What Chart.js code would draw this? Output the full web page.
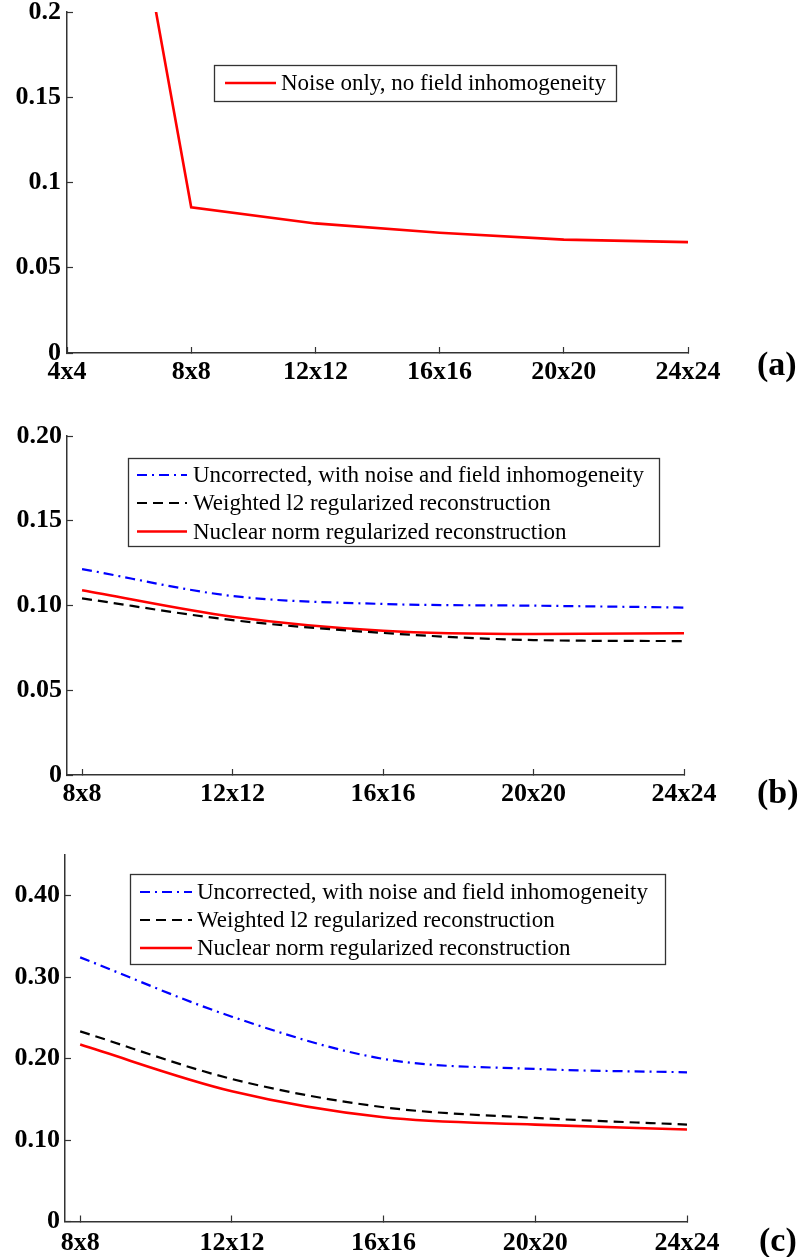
<!DOCTYPE html>
<html>
<head>
<meta charset="utf-8">
<script src="https://cdn.jsdelivr.net/npm/chart.js@4.4.1/dist/chart.umd.min.js"></script>
<style>
html,body{margin:0;padding:0;background:#fff;width:803px;height:1257px;overflow:hidden;}
.panel{position:absolute;left:0;width:803px;}
canvas{display:block;}
</style>
</head>
<body>
<div class="panel" style="top:0;height:400px"><canvas id="ca" width="803" height="400"></canvas></div>
<div class="panel" style="top:420px;height:400px"><canvas id="cb" width="803" height="400"></canvas></div>
<div class="panel" style="top:840px;height:417px"><canvas id="cc" width="803" height="417"></canvas></div>
<script>
// ---------------- DATA ----------------
const sizesA = [4, 8, 12, 16, 20, 24];
const noiseOnlyA = [0.49, 0.0855, 0.076, 0.0705, 0.0665, 0.065];

const sizesBC = [8, 12, 16, 20, 24];
const uncorrectedB = [0.1215, 0.1056, 0.1009, 0.0999, 0.0988];
const weightedL2B  = [0.1042, 0.0914, 0.0838, 0.0796, 0.0790];
const nuclearB     = [0.1090, 0.0934, 0.0851, 0.0832, 0.0836];

const uncorrectedC = [0.3243, 0.2515, 0.1996, 0.1873, 0.1832];
const weightedL2C  = [0.2335, 0.1750, 0.1403, 0.1272, 0.1190];
const nuclearC     = [0.2172, 0.1600, 0.1280, 0.1190, 0.1129];

const xTicksA = [4, 8, 12, 16, 20, 24];
const xTickLabelsA = ['4x4', '8x8', '12x12', '16x16', '20x20', '24x24'];
const xTicksBC = [8, 12, 16, 20, 24];
const xTickLabelsBC = ['8x8', '12x12', '16x16', '20x20', '24x24'];

const yTicksA = [0, 0.05, 0.1, 0.15, 0.2];
const yTickLabelsA = ['0', '0.05', '0.1', '0.15', '0.2'];
const yTicksB = [0, 0.05, 0.1, 0.15, 0.2];
const yTickLabelsB = ['0', '0.05', '0.10', '0.15', '0.20'];
const yTicksC = [0, 0.1, 0.2, 0.3, 0.4];
const yTickLabelsC = ['0', '0.10', '0.20', '0.30', '0.40'];

const labelNoiseOnly = 'Noise only, no field inhomogeneity';
const labelUncorrected = 'Uncorrected, with noise and field inhomogeneity';
const labelWeighted = 'Weighted l2 regularized reconstruction';
const labelNuclear = 'Nuclear norm regularized reconstruction';
const panelTags = ['(a)', '(b)', '(c)'];

// ---------------- HELPERS ----------------
const pts = (xs, ys) => xs.map((x, i) => ({x: x, y: ys[i]}));
const TICK_FONT = {family: '"Liberation Serif", "Times New Roman", serif', weight: 'bold', size: 26};
const AXIS_COL = '#333';

const boxLegend = {
  id: 'boxLegend',
  afterDraw(chart, args, o) {
    const ctx = chart.ctx;
    ctx.save();
    const b = o.box;
    ctx.fillStyle = '#fff';
    ctx.fillRect(b[0], b[1], b[2] - b[0], b[3] - b[1]);
    ctx.strokeStyle = '#333';
    ctx.lineWidth = 1.3;
    ctx.strokeRect(b[0] + 0.5, b[1] + 0.5, b[2] - b[0], b[3] - b[1]);
    ctx.font = o.font;
    ctx.textBaseline = 'middle';
    ctx.textAlign = 'left';
    chart.data.datasets.forEach((ds, i) => {
      const y = o.rows[i];
      ctx.beginPath();
      ctx.setLineDash(ds.borderDash || []);
      ctx.strokeStyle = ds.borderColor;
      ctx.lineWidth = ds.borderWidth;
      ctx.moveTo(o.sample[0], y);
      ctx.lineTo(o.sample[1], y);
      ctx.stroke();
      ctx.setLineDash([]);
      ctx.fillStyle = '#000';
      ctx.fillText(ds.label, o.textX, y + 1);
    });
    if (o.tag) {
      ctx.font = o.tag.font;
      ctx.fillStyle = '#000';
      ctx.textBaseline = 'middle';
      ctx.fillText(o.tag.text, o.tag.x, o.tag.y);
    }
    ctx.restore();
  }
};

function makeChart(id, cfg) {
  const ctx = document.getElementById(id);
  return new Chart(ctx, {
    type: 'line',
    data: {datasets: cfg.datasets},
    options: {
      responsive: false,
      animation: false,
      events: [],
      layout: {padding: {left: 0, top: cfg.padTop, right: cfg.padRight, bottom: 0}},
      plugins: {
        legend: {display: false},
        tooltip: {enabled: false},
        boxLegend: cfg.legend
      },
      scales: {
        x: {
          type: 'linear',
          position: 'bottom',
          min: cfg.xMin, max: cfg.xMax,
          afterBuildTicks: s => { s.ticks = cfg.xTicks.map(v => ({value: v})); },
          afterFit: s => { s.height = cfg.xHeight; s.paddingLeft = 0; s.paddingRight = 0; },
          ticks: {
            autoSkip: false, maxRotation: 0, minRotation: 0,
            padding: cfg.xPad,
            color: '#000',
            font: TICK_FONT,
            callback: (v, i) => cfg.xLabels[i]
          },
          grid: {drawOnChartArea: false, drawTicks: true, tickLength: -6, color: AXIS_COL, tickWidth: 1.2},
          border: {display: true, color: AXIS_COL, width: 1.5}
        },
        y: {
          type: 'linear',
          position: 'left',
          min: cfg.yMin, max: cfg.yMax,
          afterBuildTicks: s => { s.ticks = cfg.yTicks.map(v => ({value: v})); },
          afterFit: s => { s.width = cfg.yWidth; s.paddingTop = 0; s.paddingBottom = 0; },
          ticks: {
            padding: cfg.yPad,
            color: '#000',
            font: TICK_FONT,
            callback: (v, i) => cfg.yLabels[i]
          },
          grid: {drawOnChartArea: false, drawTicks: true, tickLength: -6, color: AXIS_COL, tickWidth: 1.2},
          border: {display: true, color: AXIS_COL, width: 1.5}
        }
      }
    },
    plugins: [boxLegend]
  });
}

const LEG_FONT = '23px "Liberation Serif", "Times New Roman", serif';
const TAG_FONT = 'bold 34px "Liberation Serif", "Times New Roman", serif';
const dsStyle = {
  blue:  {borderColor: '#0000ff', borderWidth: 2.2, borderDash: [10, 5, 2, 5]},
  black: {borderColor: '#000000', borderWidth: 2.2, borderDash: [10, 6]},
  red:   {borderColor: '#ff0000', borderWidth: 2.6, borderDash: []}
};
const common = {fill: false, pointRadius: 0, cubicInterpolationMode: 'monotone'};

// ---------------- PANEL (a) ----------------
makeChart('ca', {
  datasets: [Object.assign({label: labelNoiseOnly, data: pts(sizesA, noiseOnlyA), fill: false, pointRadius: 0, tension: 0}, dsStyle.red)],
  padTop: 12, padRight: 115, xHeight: 47, yWidth: 67,
  xMin: 4, xMax: 24, yMin: 0, yMax: 0.2,
  xTicks: xTicksA, xLabels: xTickLabelsA, yTicks: yTicksA, yLabels: yTickLabelsA,
  xPad: 10, yPad: 12,
  legend: {box: [214, 65, 616, 101], rows: [83], sample: [225, 276], textX: 281, font: LEG_FONT,
           tag: {text: panelTags[0], x: 757, y: 366, font: TAG_FONT}}
});

// ---------------- PANEL (b) ----------------
makeChart('cb', {
  datasets: [
    Object.assign({label: labelUncorrected, data: pts(sizesBC, uncorrectedB)}, common, dsStyle.blue),
    Object.assign({label: labelWeighted, data: pts(sizesBC, weightedL2B)}, common, dsStyle.black),
    Object.assign({label: labelNuclear, data: pts(sizesBC, nuclearB)}, common, dsStyle.red)
  ],
  padTop: 16, padRight: 119, xHeight: 45, yWidth: 67,
  xMin: 7.6, xMax: 24, yMin: 0, yMax: 0.2,
  xTicks: xTicksBC, xLabels: xTickLabelsBC, yTicks: yTicksB, yLabels: yTickLabelsB,
  xPad: 10, yPad: 11,
  legend: {box: [128, 38, 659, 126], rows: [55, 83, 111.5], sample: [137, 187], textX: 193, font: LEG_FONT,
           tag: {text: panelTags[1], x: 757, y: 374, font: TAG_FONT}}
});

// ---------------- PANEL (c) ----------------
makeChart('cc', {
  datasets: [
    Object.assign({label: labelUncorrected, data: pts(sizesBC, uncorrectedC)}, common, dsStyle.blue),
    Object.assign({label: labelWeighted, data: pts(sizesBC, weightedL2C)}, common, dsStyle.black),
    Object.assign({label: labelNuclear, data: pts(sizesBC, nuclearC)}, common, dsStyle.red)
  ],
  padTop: 15, padRight: 116, xHeight: 35.5, yWidth: 65,
  xMin: 7.6, xMax: 24, yMin: 0, yMax: 0.45,
  xTicks: xTicksBC, xLabels: xTickLabelsBC, yTicks: yTicksC, yLabels: yTickLabelsC,
  xPad: 12, yPad: 11,
  legend: {box: [130, 34, 665, 124], rows: [52, 80, 108], sample: [140, 192], textX: 197, font: LEG_FONT,
           tag: {text: panelTags[2], x: 759, y: 402, font: TAG_FONT}}
});
</script>
</body>
</html>
